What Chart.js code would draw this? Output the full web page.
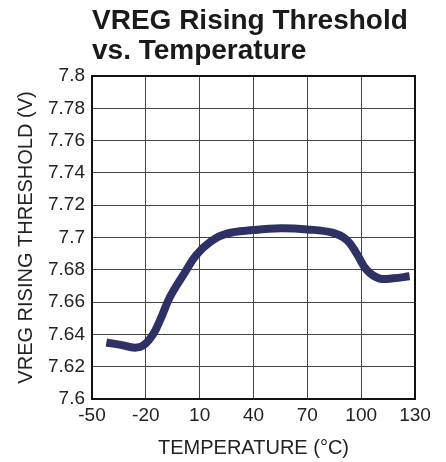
<!DOCTYPE html>
<html>
<head>
<meta charset="utf-8">
<script src="https://cdn.jsdelivr.net/npm/chart.js@4/dist/chart.umd.min.js"></script>
<style>
  html, body { margin: 0; padding: 0; background: #fff; }
  #wrap { width: 446px; height: 462px; }
</style>
</head>
<body>
<div id="wrap"><canvas id="myChart" width="446" height="462"></canvas></div>
<script>
// Data
var temps = [-42, -34, -26, -21, -16, -12, -6.5, 1, 8, 16, 25, 40, 55, 70, 84, 92, 97.5, 103, 110, 118, 127];
var vreg = [7.635, 7.6335, 7.6318, 7.6335, 7.640, 7.649, 7.6633, 7.677, 7.689, 7.6974, 7.7024, 7.7046, 7.7057, 7.705, 7.703, 7.6985, 7.690, 7.680, 7.6747, 7.6747, 7.676];
var titleLines = ['VREG Rising Threshold', 'vs. Temperature'];
var xTicks = [-50, -20, 10, 40, 70, 100, 130];

var points = temps.map(function (t, i) { return { x: t, y: vreg[i] }; });

// Title drawn at the plot's left edge, plus a frame around the plot
var extras = {
    id: 'extras',
    beforeDatasetsDraw: function (chart) {
        var ctx = chart.ctx, a = chart.chartArea;
        ctx.save();
        ctx.strokeStyle = '#111';
        ctx.lineWidth = 2;
        ctx.strokeRect(a.left, a.top, a.right - a.left, a.bottom - a.top);
        ctx.restore();
    },
    afterDraw: function (chart) {
        var ctx = chart.ctx, a = chart.chartArea;
        ctx.save();
        ctx.fillStyle = '#1a1a1a';
        ctx.font = 'bold 28px "Liberation Sans", Arial, sans-serif';
        ctx.textBaseline = 'alphabetic';
        ctx.fillText(titleLines[0], a.left, 29);
        ctx.fillText(titleLines[1], a.left, 59);
        ctx.restore();
    }
};

var font = '"Liberation Sans", Arial, sans-serif';
var ctx = document.getElementById('myChart').getContext('2d');
var myChart = new Chart(ctx, {
    type: 'line',
    data: {
        datasets: [{
            data: points,
            borderColor: '#2e3163',
            borderWidth: 8,
            pointRadius: 0,
            tension: 0.4,
            fill: false
        }]
    },
    options: {
        responsive: false,
        animation: false,
        layout: { padding: { top: 76, right: 31, left: 0, bottom: 0 } },
        plugins: {
            legend: { display: false },
            title: { display: false },
            tooltip: { enabled: false }
        },
        scales: {
            x: {
                type: 'linear',
                min: -50,
                max: 130,
                afterBuildTicks: function (axis) {
                    axis.ticks = xTicks.map(function (v) { return { value: v }; });
                },
                afterFit: function (axis) { axis.height = 63; },
                grid: { color: '#444', lineWidth: 1, drawTicks: false },
                border: { display: false },
                ticks: {
                    padding: 5,
                    color: '#222',
                    font: { family: font, size: 19 },
                    maxRotation: 0,
                    autoSkip: false
                },
                title: {
                    display: true,
                    text: 'TEMPERATURE (°C)',
                    color: '#222',
                    font: { family: font, size: 20 },
                    padding: { top: 4, bottom: 2 }
                }
            },
            y: {
                min: 7.6,
                max: 7.8,
                afterFit: function (axis) { axis.width = 92; },
                grid: { color: '#444', lineWidth: 1, drawTicks: false },
                border: { display: false },
                ticks: {
                    stepSize: 0.02,
                    padding: 7,
                    color: '#222',
                    font: { family: font, size: 19 },
                    callback: function (v) { return parseFloat(v.toFixed(2)).toString(); }
                },
                title: {
                    display: true,
                    text: 'VREG RISING THRESHOLD (V)',
                    color: '#222',
                    font: { family: font, size: 20 },
                    padding: { top: 14, bottom: 4 }
                }
            }
        }
    },
    plugins: [extras]
});
</script>
</body>
</html>
